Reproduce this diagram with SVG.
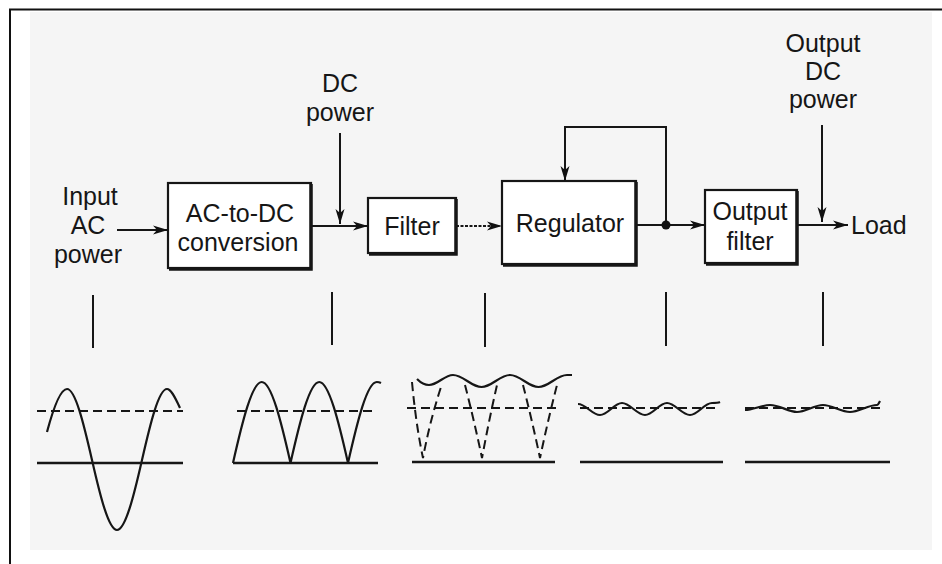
<svg xmlns="http://www.w3.org/2000/svg" width="942" height="564" viewBox="0 0 942 564">
  <defs>
    <marker id="arr" markerUnits="userSpaceOnUse" markerWidth="16" markerHeight="11" refX="15" refY="5.5" orient="auto">
      <path d="M0,1 L15,5.5 L0,10 L4,5.5 z" fill="#111"/>
    </marker>
    <style>
      .lbl { font-family: "Liberation Sans", Arial, sans-serif; font-size: 25px; fill: #161616; text-anchor: middle; }
      .box { fill: #ffffff; stroke: #161616; stroke-width: 2.2; }
      .shadow { fill: none; stroke: #161616; stroke-width: 3.5; }
      .wire { fill: none; stroke: #161616; stroke-width: 2; }
      .tick { stroke: #161616; stroke-width: 2; }
      .wave { fill: none; stroke: #161616; stroke-width: 2.2; }
      .base { fill: none; stroke: #161616; stroke-width: 2.6; }
      .dash { fill: none; stroke: #161616; stroke-width: 2; stroke-dasharray: 9 5; }
    </style>
  </defs>

  <!-- frame -->
  <rect x="0" y="0" width="942" height="564" fill="#ffffff"/>
  <rect x="30" y="12" width="902" height="538" fill="#f5f5f5"/>
  <path d="M10,564 V9.5 H942" fill="none" stroke="#111" stroke-width="2"/>

  <!-- nodes -->
  <g id="input-label">
    <text class="lbl" x="90" y="205">Input</text>
    <text class="lbl" x="88" y="234">AC</text>
    <text class="lbl" x="88" y="263">power</text>
  </g>

  <g id="acdc">
    <rect class="box" x="168" y="183" width="143" height="85"/>
    <path class="shadow" d="M311,184 V269 H169"/>
    <text class="lbl" x="240" y="222">AC-to-DC</text>
    <text class="lbl" x="238" y="251">conversion</text>
  </g>

  <g id="dc-power-label">
    <text class="lbl" x="340" y="92">DC</text>
    <text class="lbl" x="340" y="121">power</text>
  </g>

  <g id="filter">
    <rect class="box" x="368" y="198" width="88" height="55"/>
    <path class="shadow" d="M456,199 V254 H369"/>
    <text class="lbl" x="412" y="235">Filter</text>
  </g>

  <g id="regulator">
    <rect class="box" x="502" y="181" width="134" height="83"/>
    <path class="shadow" d="M636,182 V265 H503"/>
    <text class="lbl" x="570" y="232">Regulator</text>
  </g>

  <g id="output-filter">
    <rect class="box" x="705" y="190" width="92" height="73"/>
    <path class="shadow" d="M797,191 V264 H706"/>
    <text class="lbl" x="750" y="220">Output</text>
    <text class="lbl" x="750" y="250">filter</text>
  </g>

  <g id="output-dc-label">
    <text class="lbl" x="823" y="52">Output</text>
    <text class="lbl" x="823" y="80">DC</text>
    <text class="lbl" x="823" y="108">power</text>
  </g>

  <g id="load">
    <text class="lbl" x="851" y="234" style="text-anchor:start">Load</text>
  </g>

  <!-- connectors -->
  <g id="connectors">
    <line class="wire" x1="117" y1="230" x2="168" y2="230" marker-end="url(#arr)"/>
    <line class="wire" x1="312" y1="226" x2="368" y2="226" marker-end="url(#arr)"/>
    <line class="wire" x1="340" y1="133" x2="340" y2="224" marker-end="url(#arr)"/>
    <line class="wire" x1="456" y1="226" x2="502" y2="226" stroke-dasharray="3 1.5" marker-end="url(#arr)"/>
    <line class="wire" x1="636" y1="225" x2="705" y2="225" marker-end="url(#arr)"/>
    <path class="wire" d="M666,225 V127 H565 V181" marker-end="url(#arr)"/>
    <circle cx="666" cy="225" r="4.5" fill="#111"/>
    <line class="wire" x1="797" y1="225" x2="848" y2="225" marker-end="url(#arr)"/>
    <line class="wire" x1="822" y1="125" x2="822" y2="222" marker-end="url(#arr)"/>
  </g>

  <!-- probe ticks -->
  <g id="ticks">
    <line class="tick" x1="93" y1="295" x2="93" y2="348"/>
    <line class="tick" x1="332" y1="292" x2="332" y2="345"/>
    <line class="tick" x1="485" y1="293" x2="485" y2="347"/>
    <line class="tick" x1="666" y1="292" x2="666" y2="346"/>
    <line class="tick" x1="823" y1="292" x2="823" y2="346"/>
  </g>

  <!-- waveforms -->
  <g id="wave-ac">
    <line class="base" x1="37" y1="463" x2="183" y2="463"/>
    <line class="dash" x1="37" y1="411" x2="183" y2="411"/>
    <path class="wave" d="M47,432 C53.7,407 60.3,389 67,389 C75.36,389 83.85,424.15 92,460 C100.15,495.85 108.64,530 117,530 C125.36,530 133.85,495.85 142,460 C150.15,424.15 158.64,389 167,389 C170.7,389 174.3,395.7 180,408"/>
  </g>

  <g id="wave-rectified">
    <line class="base" x1="233" y1="463" x2="378" y2="463"/>
    <line class="dash" x1="237" y1="411" x2="373" y2="411"/>
    <path class="wave" d="M233,463 C242.37,421.5 252.13,382 261.75,382 C271.37,382 281.13,421.5 290.5,463 C299.87,421.5 309.63,382 319.25,382 C328.87,382 338.63,421.5 348,463 C357.37,421.5 367.13,382 376.75,382 C378.5,382 380,382.5 381,383"/>
  </g>

  <g id="wave-filtered">
    <line class="base" x1="412" y1="462" x2="555" y2="462"/>
    <line class="dash" x1="407" y1="408" x2="557" y2="408"/>
    <path class="dash" d="M412,382 Q416,425 423,458 Q430,420 442,384"/>
    <path class="dash" d="M465,385 Q474,420 482,458 Q489,420 497,385"/>
    <path class="dash" d="M523,385 Q532,420 540,458 Q548,420 557,385"/>
    <path class="wave" d="M417,379 C421,383 425,385 429,385 C437.6,385 444.4,375 453,375 C463.3,375 471.2,387 481.5,387 C491.8,387 499.7,375 510,375 C520.3,375 528.2,387 538.5,387 C548.8,387 556.7,375 567,375 C569,375 571,375 572,375"/>
  </g>

  <g id="wave-regulated">
    <line class="base" x1="580" y1="462" x2="723" y2="462"/>
    <line class="dash" x1="580" y1="408" x2="720" y2="408"/>
    <path class="wave" d="M578,404 C586,404 592,415 600,415 C608,415 614,403 622,403 C630,403 637,415 645,415 C653,415 659,403 667,403 C675,403 682,415 690,415 C698,415 704,403 712,403 C715,403 718,403 720,402"/>
  </g>

  <g id="wave-output">
    <line class="base" x1="745" y1="462" x2="890" y2="462"/>
    <line class="dash" x1="745" y1="408" x2="882" y2="408"/>
    <path class="wave" d="M745,410 C753,410 762,405 770,405 C780,405 788,412 797,412 C806,412 814,405 823,405 C832,405 841,412 850,412 C859,412 868,405 877,405 C878,405 879,403 880,401"/>
  </g>
</svg>
